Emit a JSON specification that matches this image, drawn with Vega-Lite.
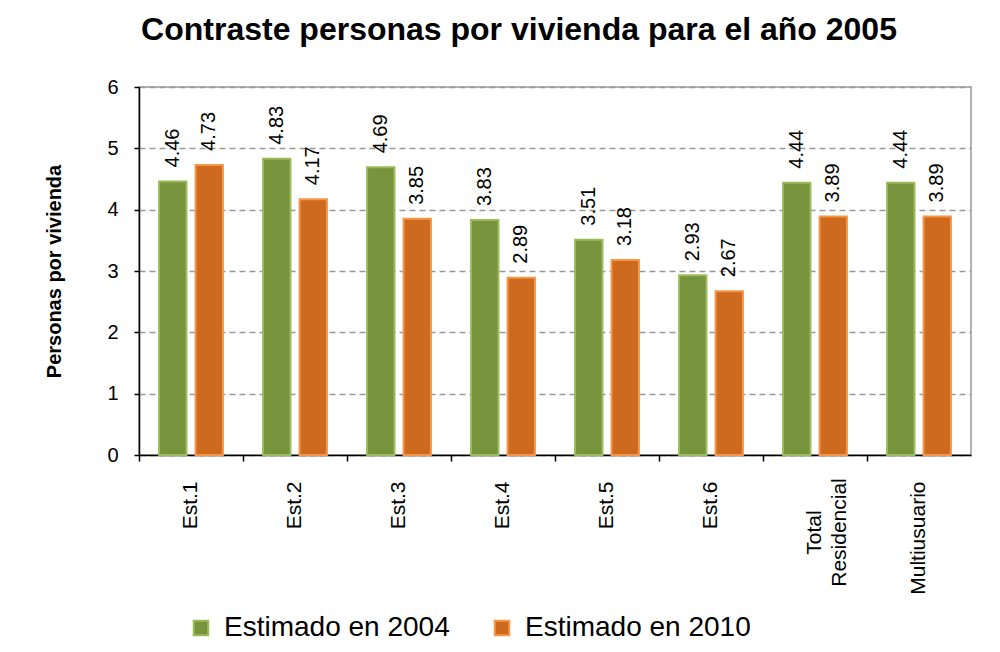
{
  "$schema": "https://vega.github.io/schema/vega-lite/v6.json",
  "width": 832,
  "height": 368,
  "autosize": {"type": "none"},
  "padding": {"left": 139, "top": 87, "right": 29, "bottom": 197},
  "background": "white",
  "config": {
    "font": "Liberation Sans",
    "view": {"stroke": "#999999", "strokeWidth": 1.5}
  },
  "title": {
    "text": "Contraste personas por vivienda para el año 2005",
    "fontSize": 32,
    "fontWeight": "bold",
    "font": "Liberation Sans",
    "color": "#000000",
    "anchor": "middle",
    "dx": -36,
    "offset": 30
  },
  "data": {
    "values": [
      {"cat": "Est.1", "serie": "Estimado en 2004", "valor": 4.46},
      {"cat": "Est.1", "serie": "Estimado en 2010", "valor": 4.73},
      {"cat": "Est.2", "serie": "Estimado en 2004", "valor": 4.83},
      {"cat": "Est.2", "serie": "Estimado en 2010", "valor": 4.17},
      {"cat": "Est.3", "serie": "Estimado en 2004", "valor": 4.69},
      {"cat": "Est.3", "serie": "Estimado en 2010", "valor": 3.85},
      {"cat": "Est.4", "serie": "Estimado en 2004", "valor": 3.83},
      {"cat": "Est.4", "serie": "Estimado en 2010", "valor": 2.89},
      {"cat": "Est.5", "serie": "Estimado en 2004", "valor": 3.51},
      {"cat": "Est.5", "serie": "Estimado en 2010", "valor": 3.18},
      {"cat": "Est.6", "serie": "Estimado en 2004", "valor": 2.93},
      {"cat": "Est.6", "serie": "Estimado en 2010", "valor": 2.67},
      {"cat": "Total Residencial", "serie": "Estimado en 2004", "valor": 4.44},
      {"cat": "Total Residencial", "serie": "Estimado en 2010", "valor": 3.89},
      {"cat": "Multiusuario", "serie": "Estimado en 2004", "valor": 4.44},
      {"cat": "Multiusuario", "serie": "Estimado en 2010", "valor": 3.89}
    ]
  },
  "encoding": {
    "x": {
      "field": "cat",
      "type": "nominal",
      "sort": null,
      "scale": {"paddingInner": 0, "paddingOuter": 0},
      "axis": {
        "title": null,
        "bandPosition": 0,
        "domainColor": "#000000",
        "domainWidth": 1.5,
        "tickColor": "#000000",
        "tickWidth": 1.5,
        "tickSize": 6,
        "labelAngle": 270,
        "labelAlign": {"condition": {"test": "datum.value == 'Total Residencial'", "value": "center"}, "value": "right"},
        "labelPadding": {"condition": {"test": "datum.value == 'Total Residencial'", "value": 71}, "value": 20},
        "labelBaseline": "middle",
        "labelFontSize": 21,
        "labelColor": "#000000",
        "labelLimit": 300,
        "labelExpr": "datum.value == 'Total Residencial' ? ['Total', 'Residencial'] : datum.value",
        "labelLineHeight": 25
      }
    },
    "xOffset": {
      "field": "serie",
      "type": "nominal",
      "scale": {"paddingInner": 0.25, "paddingOuter": 0.55}
    },
    "y": {
      "field": "valor",
      "type": "quantitative",
      "scale": {"domain": [0, 6], "nice": false},
      "axis": {
        "title": "Personas por vivienda",
        "titleFontSize": 20,
        "titleFontWeight": "bold",
        "titleColor": "#000000",
        "titlePadding": 42,
        "values": [0, 1, 2, 3, 4, 5, 6],
        "labelFontSize": 20,
        "labelColor": "#000000",
        "labelPadding": 16,
        "labelOverlap": false,
        "domainColor": "#000000",
        "domainWidth": 1.5,
        "tickColor": "#000000",
        "tickWidth": 1.5,
        "tickSize": 5,
        "gridColor": "#999999",
        "gridDash": [6, 4],
        "gridWidth": 1.3
      }
    }
  },
  "layer": [
    {
      "mark": {"type": "bar", "strokeWidth": 2},
      "encoding": {
        "fill": {
          "field": "serie",
          "type": "nominal",
          "scale": {"domain": ["Estimado en 2004", "Estimado en 2010"], "range": ["#77933C", "#CD6A1F"]},
          "legend": {
            "title": null,
            "orient": "none",
            "direction": "horizontal",
            "legendX": 48,
            "legendY": 527,
            "labelFontSize": 28,
            "labelLimit": 400,
            "labelColor": "#000000",
            "symbolType": "square",
            "symbolSize": 210,
            "symbolStrokeWidth": 2,
            "labelOffset": 9,
            "columnPadding": 38
          }
        },
        "stroke": {
          "field": "serie",
          "type": "nominal",
          "scale": {"domain": ["Estimado en 2004", "Estimado en 2010"], "range": ["#9BBB59", "#F79646"]},
          "legend": {
            "title": null,
            "orient": "none",
            "direction": "horizontal",
            "legendX": 48,
            "legendY": 527,
            "labelFontSize": 28,
            "labelLimit": 400,
            "labelColor": "#000000",
            "symbolType": "square",
            "symbolSize": 210,
            "symbolStrokeWidth": 2,
            "labelOffset": 9,
            "columnPadding": 38
          }
        }
      }
    },
    {
      "mark": {"type": "text", "angle": 270, "align": "left", "baseline": "middle", "dx": 14, "fontSize": 20, "color": "#000000"},
      "encoding": {
        "text": {"field": "valor", "type": "quantitative", "format": ".2f"}
      }
    }
  ]
}
